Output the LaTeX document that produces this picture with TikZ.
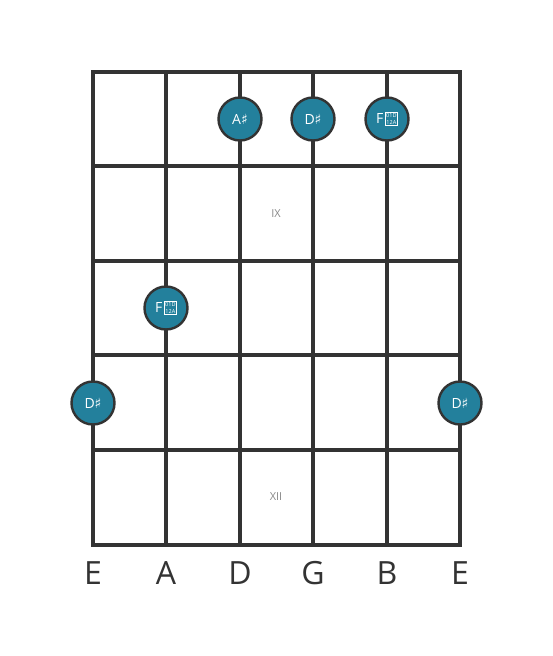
\documentclass[tikz,border=0pt]{standalone}
\usepackage{fontspec}
\setmainfont{Open Sans}
\newfontfamily\symfont{DejaVu Sans}
\definecolor{grid}{HTML}{333333}
\definecolor{dotfill}{HTML}{23809C}
\definecolor{fretlbl}{HTML}{8A8A8A}
\newcommand{\tofu}{{\hspace{1.5pt}\setlength{\fboxsep}{0.7pt}\setlength{\fboxrule}{0.6pt}\raisebox{-0.8pt}{\fbox{\fontsize{5.5}{6.6}\selectfont\shortstack{01D\\12A}}}}}
\begin{document}
\begin{tikzpicture}[x=1pt,y=-1pt,
  gridline/.style={draw=grid,line width=4pt,line cap=rect},
  notedot/.style={circle,fill=dotfill,draw=grid,line width=2.4pt,minimum size=43pt,inner sep=0pt,text=white,font=\fontsize{14}{16}\selectfont},
  strlbl/.style={text=grid,font=\fontsize{32}{34}\selectfont},
  frlbl/.style={text=fretlbl,font=\fontsize{11}{12}\selectfont}]
\useasboundingbox (0,0) rectangle (553,656);
\fill[white] (0,0) rectangle (553,656);
% strings
\foreach \x/\n in {93/s1,166/s2,240/s3,313/s4,387/s5,460/s6}{
  \coordinate (\n t) at (\x,72);
  \coordinate (\n b) at (\x,545);
  \draw[gridline] (\n t) -- (\n b);
}
% frets
\foreach \y/\n in {72/f0,166/f1,261/f2,355/f3,450/f4,545/f5}{
  \coordinate (\n l) at (93,\y);
  \coordinate (\n r) at (460,\y);
  \draw[gridline] (\n l) -- (\n r);
}
% dots
\node[notedot] (n1) at (240,119) {A{\symfont ♯}};
\node[notedot] (n2) at (313,119) {D{\symfont ♯}};
\node[notedot] (n3) at (387,119) {F\tofu};
\node[notedot] (n4) at (166,308) {F\tofu};
\node[notedot] (n5) at (93,403) {D{\symfont ♯}};
\node[notedot] (n6) at (460,403) {D{\symfont ♯}};
% fret labels
\node[frlbl] (l9) at (276,214) {IX};
\node[frlbl] (l12) at (276,497) {XII};
% string labels
\foreach \x/\t/\n in {93/E/e1,166/A/a,240/D/d,313/G/g,387/B/b,460/E/e2}{
  \node[strlbl] (\n) at (\x,573) {\t};
}
\end{tikzpicture}
\end{document}
